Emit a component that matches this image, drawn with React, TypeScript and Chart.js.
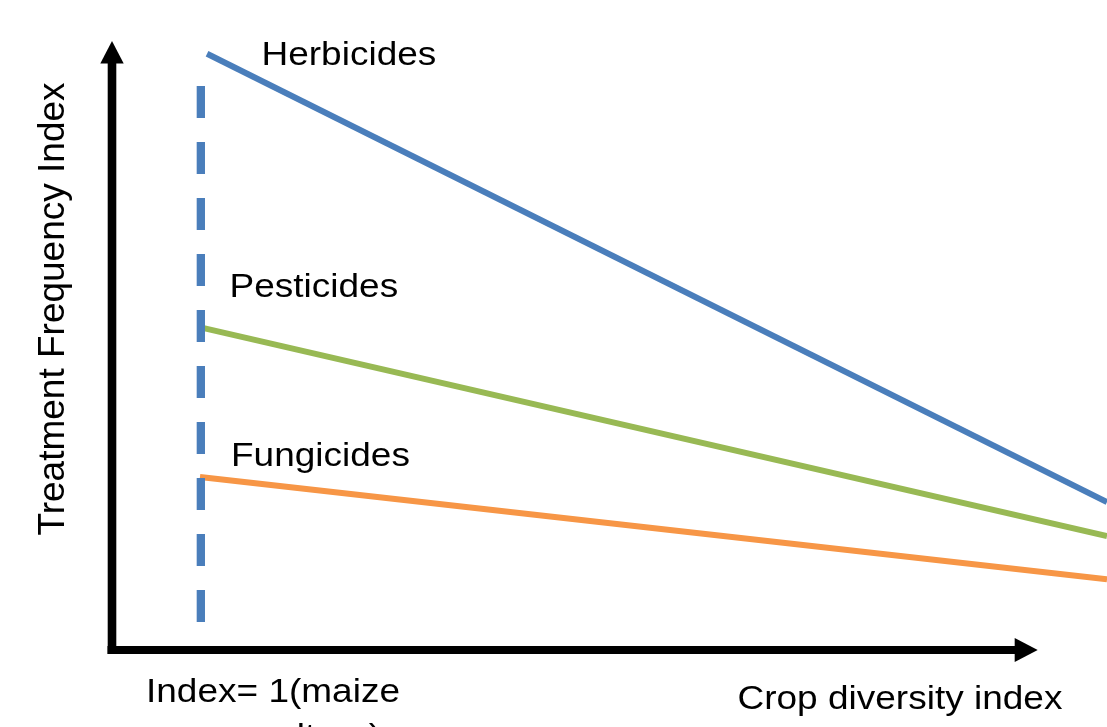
import React, { useEffect, useRef } from "react";
import { Chart, registerables } from "chart.js";

Chart.register(...registerables);

// Schematic data (crop diversity index on x, treatment frequency index on y)
const herbicidesX = [1.07, 11.2];
const herbicidesY = [9.79, 2.43];
const pesticidesX = [1.02, 11.2];
const pesticidesY = [5.29, 1.87];
const fungicidesX = [0.99, 11.2];
const fungicidesY = [2.84, 1.16];
const monocultureX = [1, 1];
const monocultureY = [9.26, 0.46];

const seriesLabels = ["Herbicides", "Pesticides", "Fungicides"];
const xAxisTitle = "Crop diversity index";
const yAxisTitle = "Treatment Frequency Index";
const monocultureLabel = ["Index= 1(maize", "monoculture)"];

const BLUE = "#4A7EBB";
const GREEN = "#98B954";
const ORANGE = "#F79646";

const pts = (xs: number[], ys: number[]) => xs.map((x, i) => ({ x, y: ys[i] }));

const FONT = '37px "Liberation Sans", Arial, sans-serif';
const SQUASH = 0.89;

const decorPlugin = {
  id: "decor",
  afterDatasetsDraw(chart: any) {
    const ctx = chart.ctx as CanvasRenderingContext2D;
    const xs = chart.scales.x;
    const ys = chart.scales.y;
    const x0 = xs.getPixelForValue(0);
    const y0 = ys.getPixelForValue(0);
    const yTop = ys.getPixelForValue(10);
    const xTip = xs.getPixelForValue(10.42);
    ctx.save();
    ctx.fillStyle = "#000";
    // y axis shaft
    ctx.fillRect(x0 - 4.3, yTop + 20, 8.6, y0 + 4 - (yTop + 20));
    // y arrow head
    ctx.beginPath();
    ctx.moveTo(x0, yTop);
    ctx.lineTo(x0 - 11.7, yTop + 22.5);
    ctx.lineTo(x0 + 11.7, yTop + 22.5);
    ctx.closePath();
    ctx.fill();
    // x axis shaft
    ctx.fillRect(x0 - 4.5, y0 - 4, xTip - 20 - (x0 - 4.5), 8);
    // x arrow head
    ctx.beginPath();
    ctx.moveTo(xTip, y0);
    ctx.lineTo(xTip - 23, y0 - 12);
    ctx.lineTo(xTip - 23, y0 + 12);
    ctx.closePath();
    ctx.fill();

    // texts
    ctx.font = FONT;
    ctx.textBaseline = "alphabetic";
    const hText = (t: string, x: number, y: number, align: CanvasTextAlign = "left") => {
      ctx.save();
      ctx.translate(x, y);
      ctx.scale(1, SQUASH);
      ctx.textAlign = align;
      ctx.fillText(t, 0, 0);
      ctx.restore();
    };
    hText(seriesLabels[0], 261.5, 65);
    hText(seriesLabels[1], 229.5, 296.7);
    hText(seriesLabels[2], 231, 466);
    hText(xAxisTitle, 737.5, 709.3);
    hText(monocultureLabel[0], 273, 701.7, "center");
    hText(monocultureLabel[1], 273, 747, "center");

    // rotated y title
    ctx.save();
    ctx.translate(63.5, 309);
    ctx.rotate(-Math.PI / 2);
    ctx.textAlign = "center";
    ctx.fillText(yAxisTitle, 0, 0);
    ctx.restore();
    ctx.restore();
  },
};

export default function App() {
  const ref = useRef<HTMLCanvasElement | null>(null);
  useEffect(() => {
    document.body.style.margin = "0";
    if (!ref.current) return;
    const common = {
      pointRadius: 0,
      pointHoverRadius: 0,
      borderCapStyle: "butt" as const,
      tension: 0,
      fill: false,
    };
    const chart = new Chart(ref.current, {
      type: "line",
      data: {
        datasets: [
          { ...common, label: "Index = 1", data: pts(monocultureX, monocultureY), borderColor: BLUE, borderWidth: 8.3, borderDash: [32, 24] },
          { ...common, label: seriesLabels[0], data: pts(herbicidesX, herbicidesY), borderColor: BLUE, borderWidth: 6 },
          { ...common, label: seriesLabels[1], data: pts(pesticidesX, pesticidesY), borderColor: GREEN, borderWidth: 6 },
          { ...common, label: seriesLabels[2], data: pts(fungicidesX, fungicidesY), borderColor: ORANGE, borderWidth: 6 },
        ],
      },
      options: {
        animation: false,
        responsive: true,
        maintainAspectRatio: false,
        layout: { padding: { left: 112, right: 0, top: 41, bottom: 77 } },
        plugins: { legend: { display: false }, tooltip: { enabled: false } },
        scales: {
          x: { type: "linear", min: 0, max: 11.2, display: false },
          y: { type: "linear", min: 0, max: 10, display: false },
        },
      },
      plugins: [decorPlugin],
    });
    return () => chart.destroy();
  }, []);
  return (
    <div style={{ position: "fixed", left: 0, top: 0, width: "1107px", height: "727px", background: "#fff" }}>
      <canvas ref={ref} />
    </div>
  );
}
